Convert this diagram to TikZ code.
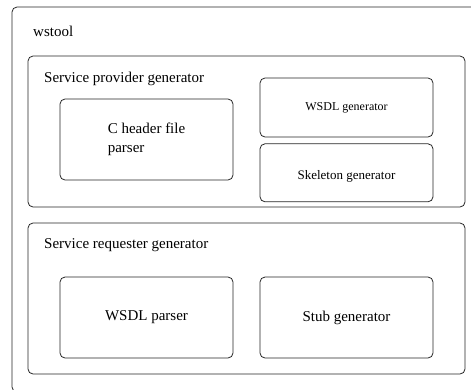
\documentclass[tikz,border=0pt]{standalone}
\usepackage{fontspec}
\setmainfont{Liberation Serif}
\usetikzlibrary{positioning}

\begin{document}
\begin{tikzpicture}[x=1pt,y=-1pt,
  box/.style={draw=black!85,line width=0.8pt,rounded corners=5pt,inner sep=0pt},
  lbl/.style={inner sep=0pt,anchor=west,font=\fontsize{15}{18}\selectfont}]
\useasboundingbox (0,0) rectangle (471,389);
\clip (0,0) rectangle (471,389);
% wstool
\node[box,minimum width=468pt,minimum height=385pt] (wstool) at (246,199.5) {};
\node[lbl] (wstoollbl) at (33,31) {wstool};
% provider
\node[box,minimum width=437pt,minimum height=151pt] (prov) at (246.5,131.5) {};
\node[lbl] (provlbl) at (44,79) {Service provider generator};
\node[box,minimum width=173pt,minimum height=81pt,align=left,
  font=\fontsize{15}{19}\selectfont] (chdr) at (146.5,139.5) {C header file\\parser};
\node[box,minimum width=173pt,minimum height=59pt,
  font=\fontsize{12}{14}\selectfont] (wsdlgen) at (346.5,107.5) {WSDL generator};
\node[box,minimum width=173pt,minimum height=58pt,below=6pt of wsdlgen] (skel) {};
\node[inner sep=0pt,font=\fontsize{13}{15}\selectfont] (skellbl)
  at ([yshift=-3.5pt]skel.center) {Skeleton generator};
% requester
\node[box,minimum width=437pt,minimum height=151pt] (req) at (246.5,298.5) {};
\node[lbl] (reqlbl) at (44,245) {Service requester generator};
\node[box,minimum width=173pt,minimum height=81pt,
  font=\fontsize{15}{18}\selectfont] (wsdlpar) at (146.5,317.5) {WSDL parser};
\node[box,minimum width=173pt,minimum height=81pt,
  font=\fontsize{15}{18}\selectfont] (stub) at (346.5,317.5) {Stub generator};
\end{tikzpicture}
\end{document}
